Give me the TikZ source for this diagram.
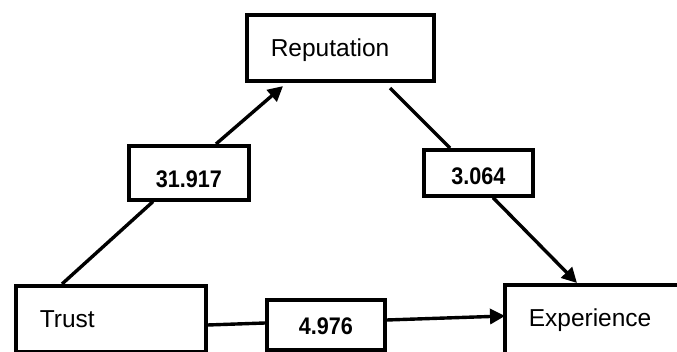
\documentclass[tikz,border=0pt]{standalone}
\usepackage{fontspec}
\setmainfont{Liberation Sans}
\usetikzlibrary{arrows.meta,calc}
\tikzset{
  mainbox/.style={draw, line width=3.6pt, rectangle, anchor=north west,
    font=\fontsize{24.5}{29}\selectfont, inner xsep=24pt, inner ysep=0pt,
    align=left, text height=41.5pt, text depth=25pt},
  valbox/.style={draw, line width=3.6pt, rectangle, anchor=north west,
    font=\fontsize{24}{28}\selectfont\bfseries, inner sep=0pt, align=center},
  conn/.style={line width=3.4pt},
  arr/.style={line width=3.4pt, -{Triangle[length=15pt,width=15pt]}}
}
\newcommand{\valtxt}[1]{\scalebox{0.9}[1]{#1}}
\begin{document}
\begin{tikzpicture}[x=1pt, y=-1pt]
\useasboundingbox (0,0) rectangle (677,352);
\node[mainbox, text width=139pt] (rep) at (245,13) {Reputation};
\node[mainbox, text width=142pt] (trust) at (14,284) {Trust};
\node[mainbox, text width=200pt, text height=42pt, text depth=45pt] (exp) at (503,283) {Experience};
\node[valbox, minimum width=120pt, text height=41.5pt, text depth=12.5pt] (l1) at (127,144) {\valtxt{31.917}};
\node[valbox, minimum width=109pt, text height=34.5pt, text depth=11.5pt] (l2) at (422,148) {\valtxt{3.064}};
\node[valbox, minimum width=118pt, text height=35pt, text depth=15pt] (l3) at (265,298) {\valtxt{4.976}};
\draw[conn] ($(trust.north west)+(48,0)$) -- ($(l1.south west)+(26,0)$);
\draw[arr] ($(l1.north west)+(89,0)$) -- ($(rep.south west)+(38,3)$);
\draw[conn] ($(rep.south west)+(145,5)$) -- ($(l2.north west)+(28,0)$);
\draw[arr] ($(l2.south west)+(71,0)$) -- ($(exp.north west)+(74,0)$);
\draw[conn] ($(trust.north east)+(0,41)$) -- ($(l3.north west)+(0,25)$);
\draw[arr] ($(l3.north east)+(0,22)$) -- ($(exp.north west)+(2,33)$);
\end{tikzpicture}
\end{document}
